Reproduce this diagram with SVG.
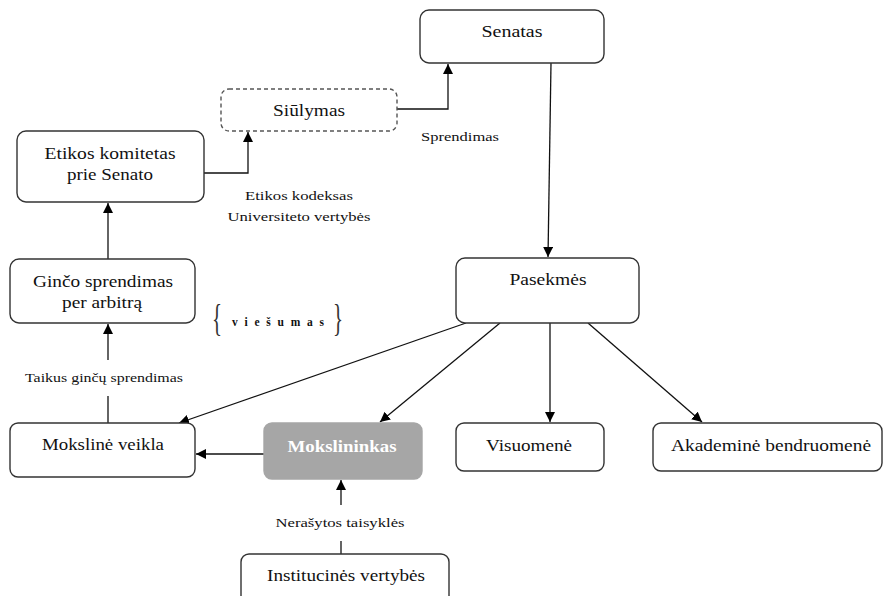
<svg xmlns="http://www.w3.org/2000/svg" width="883" height="596" viewBox="0 0 883 596" font-family="'Liberation Serif', 'DejaVu Serif', serif">
  <style>
    .box { fill: #fff; stroke: #333; stroke-width: 1.4; }
    .dash { fill: #fff; stroke: #555; stroke-width: 1.4; stroke-dasharray: 4 3; }
    .grey { fill: #a6a6a6; stroke: #a6a6a6; stroke-width: 1.4; }
    text { font-family: 'Liberation Serif', 'DejaVu Serif', serif; }
    .t { font-size: 16px; fill: #111; text-anchor: middle; }
    .tw { font-size: 16px; font-weight: bold; fill: #fff; text-anchor: middle; }
    .lb { font-size: 13.5px; fill: #111; text-anchor: middle; }
    .br { font-size: 38px; fill: #333; }
    .ln { fill: none; stroke: #111; stroke-width: 1.3; }
  </style>
  <defs>
    <marker id="arr" viewBox="0 0 10 10" refX="10" refY="5" markerWidth="10" markerHeight="10" markerUnits="userSpaceOnUse" orient="auto">
      <path d="M0,0 L10,5 L0,10 z" fill="#000"/>
    </marker>
  </defs>
  <rect width="883" height="596" fill="#fff"/>

  <g id="connectors">
    <path class="ln" d="M204,173 H248 V132" marker-end="url(#arr)"/>
    <path class="ln" d="M397,109 H448 V64" marker-end="url(#arr)"/>
    <path class="ln" d="M551,63 L548,257" marker-end="url(#arr)"/>
    <path class="ln" d="M108,259 V203" marker-end="url(#arr)"/>
    <path class="ln" d="M108,423 V396"/>
    <path class="ln" d="M108,360 V324" marker-end="url(#arr)"/>
    <path class="ln" d="M466,323 L179,423" marker-end="url(#arr)"/>
    <path class="ln" d="M500,323 L380,422" marker-end="url(#arr)"/>
    <path class="ln" d="M550,323 V422" marker-end="url(#arr)"/>
    <path class="ln" d="M588,323 L702,422" marker-end="url(#arr)"/>
    <path class="ln" d="M264,454 H196" marker-end="url(#arr)"/>
    <path class="ln" d="M341,554 V541"/>
    <path class="ln" d="M341,505 V480" marker-end="url(#arr)"/>
  </g>

  <g id="senatas">
    <rect class="box" x="420" y="10" width="184" height="53" rx="9"/>
    <text class="t" x="512" y="37" textLength="61" lengthAdjust="spacingAndGlyphs">Senatas</text>
  </g>
  <g id="siulymas">
    <rect class="dash" x="221" y="89" width="176" height="42" rx="8"/>
    <text class="t" x="309" y="116" textLength="72" lengthAdjust="spacingAndGlyphs">Siūlymas</text>
  </g>
  <g id="etikos-komitetas">
    <rect class="box" x="17" y="131" width="187" height="71" rx="9"/>
    <text class="t" x="110" y="159" textLength="131" lengthAdjust="spacingAndGlyphs">Etikos komitetas</text>
    <text class="t" x="110" y="180" textLength="86" lengthAdjust="spacingAndGlyphs">prie Senato</text>
  </g>
  <g id="gincas">
    <rect class="box" x="10" y="259" width="185" height="64" rx="9"/>
    <text class="t" x="103" y="287" textLength="140" lengthAdjust="spacingAndGlyphs">Ginčo sprendimas</text>
    <text class="t" x="102" y="308" textLength="80" lengthAdjust="spacingAndGlyphs">per arbitrą</text>
  </g>
  <g id="pasekmes">
    <rect class="box" x="456" y="258" width="183" height="65" rx="9"/>
    <text class="t" x="548" y="285" textLength="77" lengthAdjust="spacingAndGlyphs">Pasekmės</text>
  </g>
  <g id="moksline-veikla">
    <rect class="box" x="10" y="423" width="185" height="54" rx="8"/>
    <text class="t" x="103" y="450" textLength="122" lengthAdjust="spacingAndGlyphs">Mokslinė veikla</text>
  </g>
  <g id="mokslininkas">
    <rect class="grey" x="264" y="423" width="158" height="56" rx="8"/>
    <text class="tw" x="342" y="452" textLength="109" lengthAdjust="spacingAndGlyphs">Mokslininkas</text>
  </g>
  <g id="visuomene">
    <rect class="box" x="456" y="423" width="148" height="48" rx="8"/>
    <text class="t" x="529" y="451" textLength="86" lengthAdjust="spacingAndGlyphs">Visuomenė</text>
  </g>
  <g id="akademine-bendruomene">
    <rect class="box" x="653" y="423" width="229" height="48" rx="8"/>
    <text class="t" x="771" y="451" textLength="200" lengthAdjust="spacingAndGlyphs">Akademinė bendruomenė</text>
  </g>
  <g id="institucines-vertybes">
    <rect class="box" x="241" y="554" width="208" height="52" rx="8"/>
    <text class="t" x="346" y="581" textLength="158" lengthAdjust="spacingAndGlyphs">Institucinės vertybės</text>
  </g>

  <g id="labels">
    <text class="lb" x="299" y="200" textLength="108" lengthAdjust="spacingAndGlyphs">Etikos kodeksas</text>
    <text class="lb" x="299" y="221" textLength="143" lengthAdjust="spacingAndGlyphs">Universiteto vertybės</text>
    <text class="lb" x="460" y="141" textLength="78" lengthAdjust="spacingAndGlyphs">Sprendimas</text>
    <text class="lb" x="104" y="382" textLength="158" lengthAdjust="spacingAndGlyphs">Taikus ginčų sprendimas</text>
    <text class="lb" x="340" y="527" textLength="129" lengthAdjust="spacingAndGlyphs">Nerašytos taisyklės</text>
    <text class="br" transform="translate(212,331) scale(0.55,1)" x="0" y="0">{</text>
    <text x="278" y="326" font-size="11.5" font-weight="bold" fill="#111" text-anchor="middle" textLength="92" lengthAdjust="spacing">viešumas</text>
    <text class="br" transform="translate(333,331) scale(0.55,1)" x="0" y="0">}</text>
  </g>
</svg>
